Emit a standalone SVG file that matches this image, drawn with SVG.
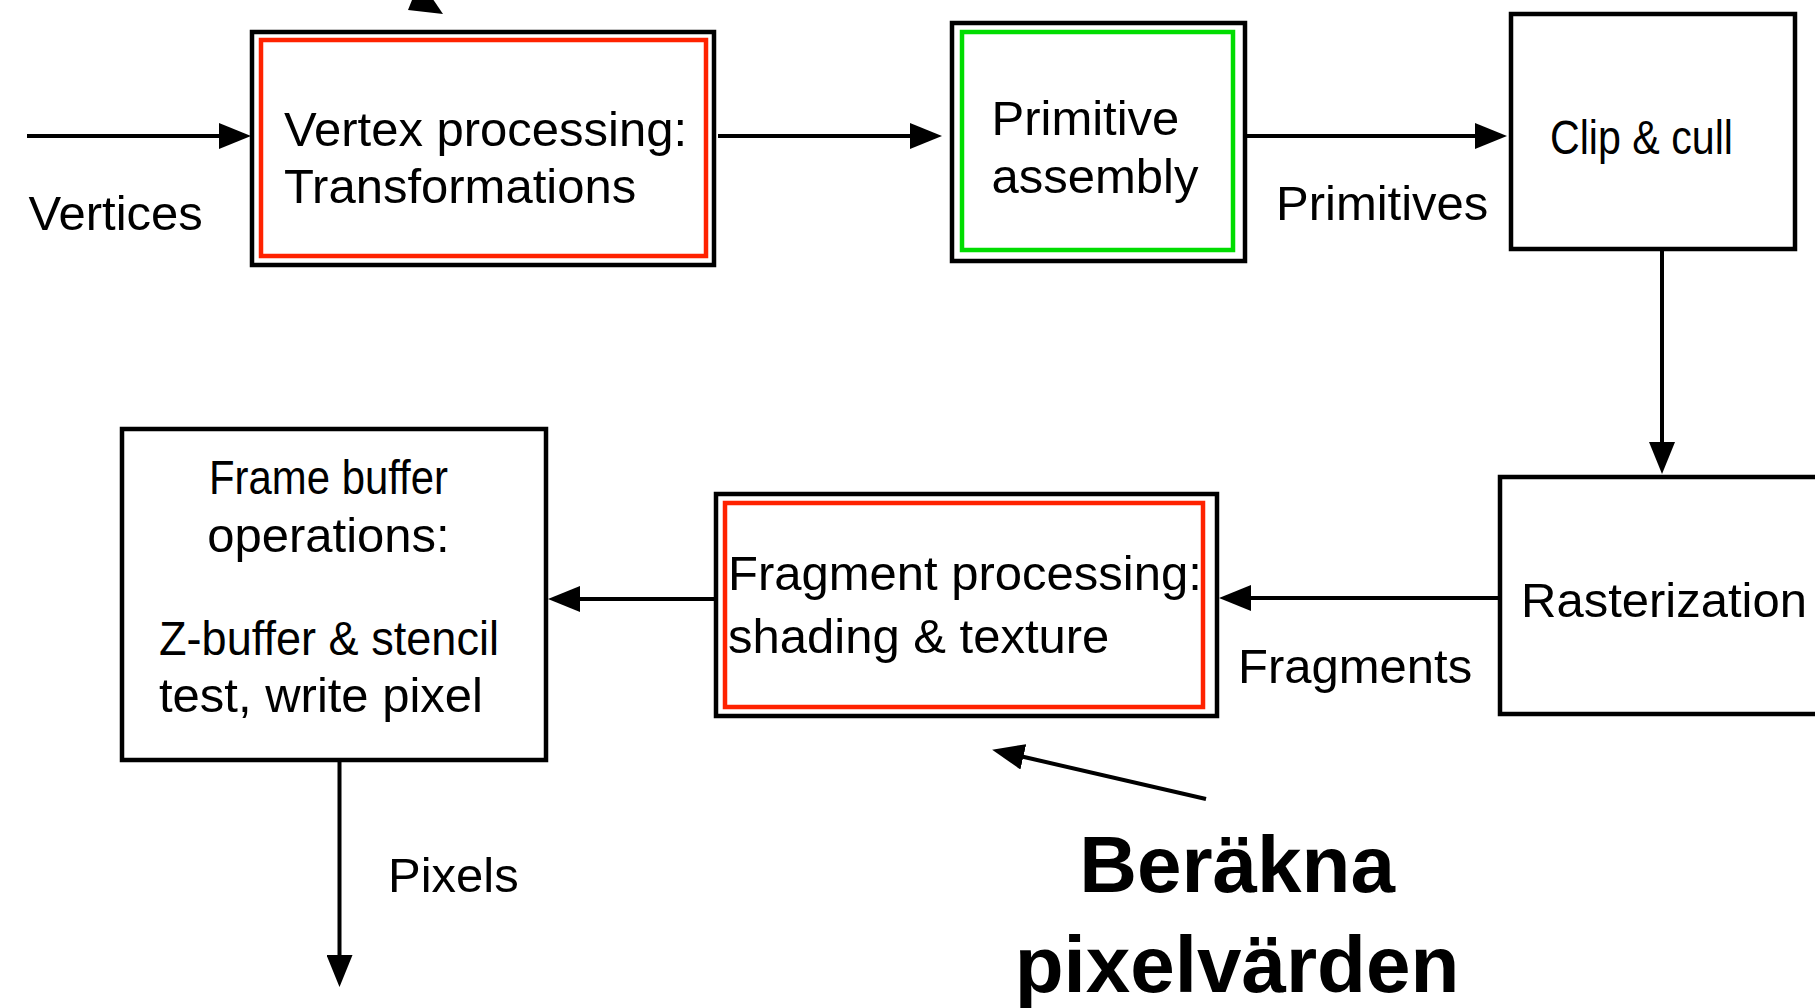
<svg xmlns="http://www.w3.org/2000/svg" width="1815" height="1008" viewBox="0 0 1815 1008">
<style>
.box{fill:none;stroke:#000;stroke-width:4.5}
.red{fill:none;stroke:#ff2200;stroke-width:4.5}
.green{fill:none;stroke:#00dd00;stroke-width:4.5}
.t{font-family:"Liberation Sans",Arial,sans-serif;font-size:49px;fill:#000}
.b{font-family:"Liberation Sans",Arial,sans-serif;font-size:80px;font-weight:bold;fill:#000}
.c{fill:none;stroke:#000;stroke-width:4}
</style>
<defs>
<marker id="ah" viewBox="0 0 32 26" refX="26" refY="13" markerWidth="32" markerHeight="26" markerUnits="userSpaceOnUse" orient="auto">
<path d="M0,0 L32,13 L0,26 z" fill="#000"/>
</marker>
</defs>
<rect width="1815" height="1008" fill="#fff"/>
<g id="connectors">
<line class="c" x1="27" y1="136" x2="245" y2="136" marker-end="url(#ah)"/>
<line class="c" x1="718" y1="136" x2="936" y2="136" marker-end="url(#ah)"/>
<line class="c" x1="1245" y1="136" x2="1501" y2="136" marker-end="url(#ah)"/>
<line class="c" x1="1662" y1="250" x2="1662" y2="468" marker-end="url(#ah)"/>
<line class="c" x1="1498" y1="598" x2="1225" y2="598" marker-end="url(#ah)"/>
<line class="c" x1="715" y1="599" x2="554" y2="599" marker-end="url(#ah)"/>
<line class="c" x1="339.5" y1="760" x2="339.5" y2="981" marker-end="url(#ah)"/>
<line class="c" x1="1206" y1="799" x2="998" y2="751" marker-end="url(#ah)"/>
<polygon points="408,10 443,14 420,-20" fill="#000"/>
</g>
<g id="vertices-label"><text class="t" x="28.5" y="230">Vertices</text></g>
<g id="vertex-processing">
<rect class="box" x="252" y="32" width="462" height="233"/>
<rect class="red" x="261" y="40" width="445" height="216"/>
<text class="t" x="284" y="146">Vertex processing:</text>
<text class="t" x="284" y="203">Transformations</text>
</g>
<g id="primitive-assembly">
<rect class="box" x="952" y="23" width="293" height="238"/>
<rect class="green" x="962" y="32" width="271" height="218"/>
<text class="t" x="991.5" y="135">Primitive</text>
<text class="t" x="991.5" y="193">assembly</text>
</g>
<g id="primitives-label"><text class="t" x="1276" y="220">Primitives</text></g>
<g id="clip-cull">
<rect class="box" x="1511" y="14" width="284" height="235"/>
<text class="t" x="1550" y="154" textLength="183" lengthAdjust="spacingAndGlyphs">Clip &amp; cull</text>
</g>
<g id="rasterization">
<rect class="box" x="1500" y="477" width="340" height="237"/>
<text class="t" x="1521" y="617">Rasterization</text>
</g>
<g id="fragments-label"><text class="t" x="1238" y="683">Fragments</text></g>
<g id="fragment-processing">
<rect class="box" x="716" y="494" width="501" height="222"/>
<rect class="red" x="725" y="503" width="478" height="204"/>
<text class="t" x="728" y="590">Fragment processing:</text>
<text class="t" x="728" y="653">shading &amp; texture</text>
</g>
<g id="frame-buffer">
<rect class="box" x="122" y="429" width="424" height="331"/>
<text class="t" x="328.5" y="494" text-anchor="middle" textLength="239" lengthAdjust="spacingAndGlyphs">Frame buffer</text>
<text class="t" x="328.5" y="552" text-anchor="middle">operations:</text>
<text class="t" x="159" y="655" textLength="340" lengthAdjust="spacingAndGlyphs">Z-buffer &amp; stencil</text>
<text class="t" x="159" y="712" textLength="324" lengthAdjust="spacingAndGlyphs">test, write pixel</text>
</g>
<g id="pixels-label"><text class="t" x="388" y="892">Pixels</text></g>
<g id="berakna">
<text class="b" x="1237" y="892" text-anchor="middle">Beräkna</text>
<text class="b" x="1237" y="992" text-anchor="middle">pixelvärden</text>
</g>
</svg>
